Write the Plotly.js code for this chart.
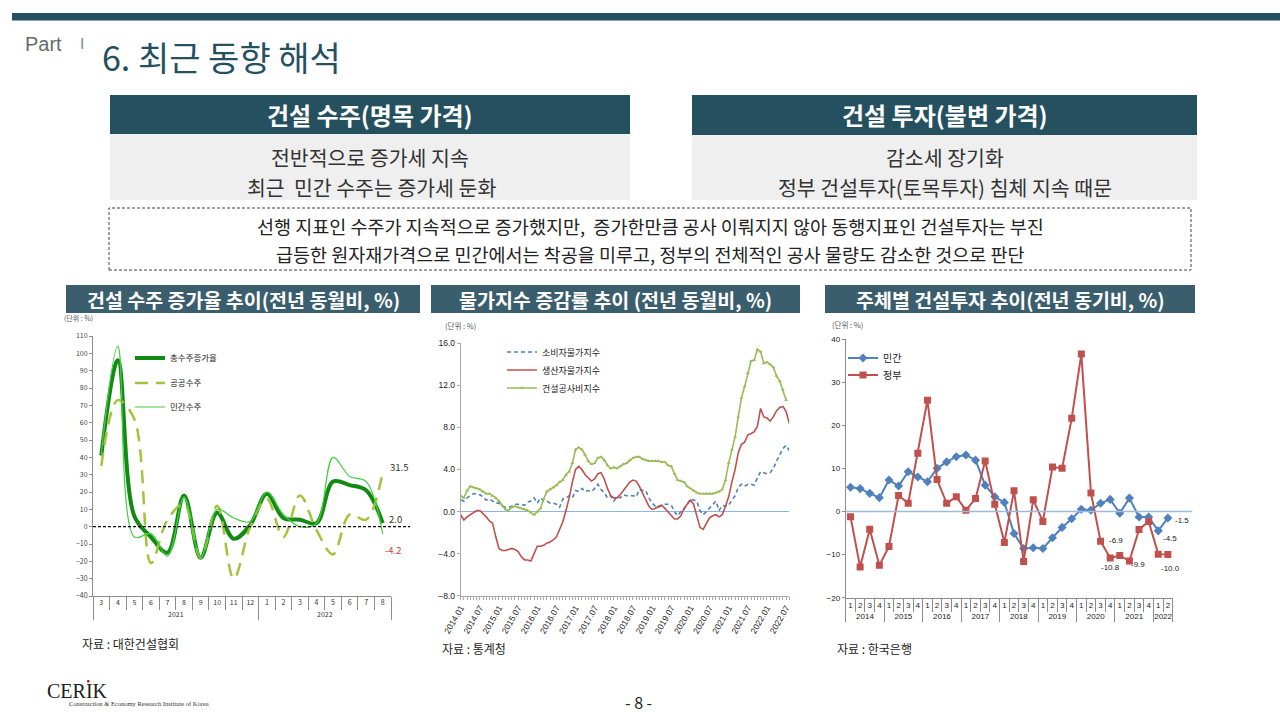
<!DOCTYPE html>
<html><head><meta charset="utf-8">
<script src="https://cdn.plot.ly/plotly-3.0.1.min.js"></script>
<style>html,body{margin:0;padding:0;background:#fff;}#chart{width:1280px;height:720px;}</style>
</head><body><div id="chart"></div>
<script>
// ---------- Chart 1 data: 건설 수주 증가율 ----------
const c1Year = ['2021','2021','2021','2021','2021','2021','2021','2021','2021','2021','2022','2022','2022','2022','2022','2022','2022','2022'];
const c1Month = ['3','4','5','6','7','8','9','10','11','12','1','2','3','4','5','6','7','8'];
const c1Total = [41, 96, 6, -6, -15, 18, -18, 8, -7, 1, 19, 5, 4, 2, 26, 24, 21, 2.0];
const c1Public = [35, 73, 62, -21, 4, 13, -18, 12, -30, 0, 16, -6, 18, -2, -16, 7, 4, 31.5];
const c1Private = [42, 104, -6, -4, -17, 17, -18, 10, 5, 3, 20, 7, 0, 2, 40, 29, 26, -4.2];
const c1Names = ['총수주증가율','공공수주','민간수주'];

// ---------- Chart 2 data: 물가지수 증감률 (2014.01 ~ 2022.08) ----------
const c2Years = ['2014','2015','2016','2017','2018','2019','2020','2021','2022'];
const c2MonthsOfYear = ['01','02','03','04','05','06','07','08','09','10','11','12'];
const c2Cpi = [1.1,1.0,1.3,1.5,1.7,1.7,1.6,1.4,1.1,1.2,1.0,0.8,
  0.8,0.5,0.4,0.4,0.5,0.7,0.7,0.7,0.6,0.9,1.0,1.3,
  0.8,1.3,1.0,1.0,0.8,0.8,0.7,0.4,1.2,1.3,1.5,1.3,
  2.0,1.9,2.2,1.9,2.0,1.9,2.2,2.6,2.1,1.8,1.3,1.5,
  1.0,1.4,1.3,1.6,1.5,1.5,1.5,1.4,2.1,2.0,2.0,1.3,
  0.8,0.5,0.4,0.6,0.7,0.7,0.6,0.0,-0.4,0.0,0.2,0.7,
  1.2,1.1,1.0,0.1,-0.3,0.0,0.3,0.7,1.0,0.1,0.6,0.5,
  0.6,1.1,1.5,2.3,2.6,2.4,2.6,2.6,2.5,3.2,3.8,3.7,
  3.6,3.7,4.1,4.8,5.4,6.0,6.3,5.8];
const c2Ppi = [-0.3,-0.8,-0.5,-0.3,-0.1,0.1,0.1,-0.2,-0.5,-0.9,-1.1,-2.4,
  -3.5,-3.7,-3.7,-3.6,-3.5,-3.6,-3.8,-4.3,-4.6,-4.6,-4.7,-4.0,
  -3.3,-3.3,-3.2,-3.0,-2.9,-2.7,-2.4,-1.7,-1.0,0.1,1.3,2.8,
  4.0,4.3,4.0,3.5,3.2,2.9,3.1,3.6,3.7,3.1,2.2,1.5,
  1.3,1.3,1.6,2.0,2.4,2.8,3.0,2.9,2.4,1.8,1.1,0.5,
  0.2,0.3,0.5,0.6,0.3,0.0,-0.3,-0.7,-0.7,-0.4,0.3,0.7,
  1.1,0.7,-0.4,-1.5,-1.7,-1.1,-0.6,-0.4,-0.3,-0.5,-0.3,0.5,
  1.4,2.8,4.0,5.6,6.4,6.6,7.3,7.4,7.6,8.1,9.8,9.0,
  8.9,8.6,9.0,9.6,9.9,10.0,9.5,8.4];
const c2Cci = [1.5,1.3,2.0,2.4,2.3,2.2,2.1,1.9,1.7,1.7,1.5,1.3,
  1.0,0.6,0.2,0.1,0.4,0.5,0.4,0.3,0.2,0.1,-0.1,-0.3,
  0.0,0.3,1.2,1.9,2.1,2.3,2.5,2.8,3.0,3.5,3.8,4.6,
  5.9,6.1,5.9,5.4,4.8,4.5,4.6,5.1,5.2,4.9,4.4,4.1,
  4.2,4.1,4.3,4.5,4.6,4.9,5.1,5.2,5.2,5.0,4.9,4.8,
  4.8,4.8,4.8,4.7,4.7,4.4,4.3,3.6,3.0,2.9,2.8,2.4,
  2.2,2.0,1.8,1.7,1.7,1.7,1.7,1.7,1.8,1.9,2.1,3.0,
  4.6,5.9,7.1,9.0,10.8,11.9,13.2,14.3,14.4,15.4,15.2,14.1,
  14.2,14.0,13.7,12.9,12.4,11.6,10.6,null];
const c2Names = ['소비자물가지수','생산자물가지수','건설공사비지수'];

// ---------- Chart 3 data: 주체별 건설투자 ----------
const c3Year = ['2014','2014','2014','2014','2015','2015','2015','2015','2016','2016','2016','2016',
  '2017','2017','2017','2017','2018','2018','2018','2018','2019','2019','2019','2019',
  '2020','2020','2020','2020','2021','2021','2021','2021','2022','2022'];
const c3Quarter = ['1','2','3','4','1','2','3','4','1','2','3','4','1','2','3','4','1','2','3','4',
  '1','2','3','4','1','2','3','4','1','2','3','4','1','2'];
const c3Private = [5.6,5.3,4.2,3.2, 7.3,5.9,9.2,8.0, 6.9,10.0,11.5,12.7, 13.1,11.9,6.1,3.4,
  2.1,-5.1,-8.6,-8.4, -8.6,-6.1,-3.7,-1.7, 0.5,0.3,1.9,2.8, -0.4,3.1,-1.3,-1.3, -4.5,-1.5];
const c3Gov = [-1.2,-12.9,-4.1,-12.5, -8.1,3.7,1.9,13.5, 25.8,7.4,1.9,3.4, 0.3,3.0,11.7,1.7,
  -7.2,4.8,-11.6,2.7, -2.3,10.3,10.0,21.6, 36.5,4.3,-6.9,-10.8, -10.2,-11.5,-4.2,-2.3, -9.9,-10.0];
const c3Names = ['민간','정부'];

// ---------- helpers ----------
const W = 1280, H = 720;
const px = x => x / W;
const py = y => 1 - y / H;
const KR = 'Noto Sans CJK KR, sans-serif';
const NUM = 'Liberation Sans, Arial, sans-serif';

// inner month keys made unique per year (zero-width mark) so Plotly keeps the original order
const c1MonthKey = c1Month.map((m, i) => (c1Year[i] === c1Year[c1Year.length - 1] ? m + '\u200b' : m));
const c2Labels = [];
c2Years.forEach(y => c2MonthsOfYear.forEach(m => { if (c2Labels.length < c2Cpi.length) c2Labels.push(y + '.' + m); }));
const c2TickText = c2Labels.map((l, i) => (i % 6 === 0 ? l : ''));
const c1Last = c1Month.length - 1;

const traces = [
  // chart 1
  {x:[c1Year,c1MonthKey], y:c1Total, name:c1Names[0], type:'scatter', mode:'lines', xaxis:'x', yaxis:'y',
   line:{color:'#138a13', width:4, shape:'spline', smoothing:1}, legend:'legend'},
  {x:[c1Year,c1MonthKey], y:c1Public, name:c1Names[1], type:'scatter', mode:'lines', xaxis:'x', yaxis:'y',
   line:{color:'#a3c43a', width:2.5, dash:'13px,8px', shape:'spline', smoothing:1}, legend:'legend2'},
  {x:[c1Year,c1MonthKey], y:c1Private, name:c1Names[2], type:'scatter', mode:'lines', xaxis:'x', yaxis:'y',
   line:{color:'#3fcf3f', width:1.2, shape:'spline', smoothing:1}, legend:'legend3'},
  // chart 2
  {x:c2Labels, y:c2Cpi, name:c2Names[0], type:'scatter', mode:'lines', xaxis:'x2', yaxis:'y2',
   line:{color:'#4f81bd', width:1.6, dash:'4px,3px'}, legend:'legend4'},
  {x:c2Labels, y:c2Ppi, name:c2Names[1], type:'scatter', mode:'lines', xaxis:'x2', yaxis:'y2',
   line:{color:'#c0504d', width:1.6}, legend:'legend5'},
  {x:c2Labels, y:c2Cci, name:c2Names[2], type:'scatter', mode:'lines+markers', xaxis:'x2', yaxis:'y2',
   line:{color:'#9bbb59', width:1.6}, marker:{symbol:'triangle-up', size:3.5, color:'#9bbb59'}, legend:'legend6'},
  // chart 3
  {x:[c3Year,c3Quarter], y:c3Private, name:c3Names[0], type:'scatter', mode:'lines+markers', xaxis:'x3', yaxis:'y3',
   line:{color:'#4f81bd', width:2}, marker:{symbol:'diamond', size:7, color:'#4f81bd'}, legend:'legend7'},
  {x:[c3Year,c3Quarter], y:c3Gov, name:c3Names[1], type:'scatter', mode:'lines+markers', xaxis:'x3', yaxis:'y3',
   line:{color:'#c0504d', width:2}, marker:{symbol:'square', size:7, color:'#c0504d'}, legend:'legend8'}
];

function leg(xp, yp, size) {
  return {x:px(xp), y:py(yp), xanchor:'left', yanchor:'middle', bgcolor:'rgba(0,0,0,0)',
          font:{family:KR, size:size, color:'#222'}, itemwidth:30, borderwidth:0};
}

const axLine = '#8c8c8c';
const shapes = [
  {type:'rect', xref:'paper', yref:'paper', x0:px(12), x1:1, y0:py(20.5), y1:py(13), fillcolor:'#25505f', line:{width:0}},
  {type:'rect', xref:'paper', yref:'paper', x0:px(110), x1:px(630), y0:py(134), y1:py(95), fillcolor:'#25505f', line:{width:0}},
  {type:'rect', xref:'paper', yref:'paper', x0:px(110), x1:px(630), y0:py(200), y1:py(134), fillcolor:'#efefef', line:{width:0}},
  {type:'rect', xref:'paper', yref:'paper', x0:px(692), x1:px(1197), y0:py(135), y1:py(95), fillcolor:'#25505f', line:{width:0}},
  {type:'rect', xref:'paper', yref:'paper', x0:px(692), x1:px(1197), y0:py(200), y1:py(135), fillcolor:'#efefef', line:{width:0}},
  {type:'rect', xref:'paper', yref:'paper', x0:px(109), x1:px(1191), y0:py(270), y1:py(208), fillcolor:'rgba(0,0,0,0)', line:{width:1, color:'#444', dash:'3px,2px'}},
  {type:'rect', xref:'paper', yref:'paper', x0:px(66), x1:px(420), y0:py(313), y1:py(285), fillcolor:'#3a5e6d', line:{width:0}},
  {type:'rect', xref:'paper', yref:'paper', x0:px(431), x1:px(800), y0:py(313), y1:py(285), fillcolor:'#3a5e6d', line:{width:0}},
  {type:'rect', xref:'paper', yref:'paper', x0:px(825), x1:px(1195), y0:py(313), y1:py(285), fillcolor:'#3a5e6d', line:{width:0}},
  {type:'line', xref:'x domain', yref:'y', x0:0, x1:1.064, y0:0, y1:0, line:{color:'#000', width:1.2, dash:'3px,2px'}},
  {type:'line', xref:'x3 domain', yref:'y3', x0:0, x1:1.06, y0:0, y1:0, line:{color:'#9dbbd9', width:1.5}},
  {type:'circle', xref:'paper', yref:'paper', x0:px(87), x1:px(89.5), y0:py(682.5), y1:py(680), fillcolor:'#c00000', line:{width:0}}
];

function ann(text, x, y, size, color, opts) {
  return Object.assign({text:text, xref:'paper', yref:'paper', x:px(x), y:py(y), showarrow:false,
    xanchor:'center', yanchor:'middle', font:{family:KR, size:size, color:color}}, opts || {});
}

const annotations = [
  ann('Part', 23, 44, 20, '#666', {xanchor:'left', font:{family:NUM, size:20, color:'#6a6a6a'}}),
  ann('Ⅰ', 82, 43, 15, '#888', {font:{family:NUM, size:15, color:'#888'}}),
  ann('6. 최근 동향 해석', 100, 57, 34, '#25505f', {xanchor:'left'}),
  ann('<b>건설 수주(명목 가격)</b>', 370, 114, 24, '#fff'),
  ann('전반적으로 증가세 지속', 370, 157, 20.5, '#333'),
  ann('최근  민간 수주는 증가세 둔화', 371, 187, 20.5, '#333'),
  ann('<b>건설 투자(불변 가격)</b>', 945, 115, 24, '#fff'),
  ann('감소세 장기화', 945, 157, 20.5, '#333'),
  ann('정부 건설투자(토목투자) 침체 지속 때문', 945, 187, 20.5, '#333'),
  ann('선행 지표인 수주가 지속적으로 증가했지만,  증가한만큼 공사 이뤄지지 않아 동행지표인 건설투자는 부진', 650, 226, 18.5, '#222', {borderpad:0}),
  ann('급등한 원자재가격으로 민간에서는 착공을 미루고, 정부의 전체적인 공사 물량도 감소한 것으로 판단', 650, 254, 18.5, '#222', {borderpad:0}),
  ann('<b>건설 수주 증가율 추이(전년 동월비, %)</b>', 243, 299, 19.5, '#fff'),
  ann('<b>물가지수 증감률 추이 (전년 동월비, %)</b>', 615, 299, 19.5, '#fff'),
  ann('<b>주체별 건설투자 추이(전년 동기비, %)</b>', 1010, 299, 19.5, '#fff'),
  ann('(단위 : %)', 62, 318, 7, '#555', {xanchor:'left'}),
  ann('(단위 : %)', 443, 326, 7.5, '#555', {xanchor:'left'}),
  ann('(단위 : %)', 830, 325, 7.5, '#555', {xanchor:'left'}),
  ann('자료 : 대한건설협회', 80, 643, 12, '#222', {xanchor:'left'}),
  ann('자료 : 통계청', 440, 648, 12, '#222', {xanchor:'left'}),
  ann('자료 : 한국은행', 835, 648, 12, '#222', {xanchor:'left'}),
  ann('CERIK', 45, 691, 20, '#222', {xanchor:'left', font:{family:'Liberation Serif, serif', size:20, color:'#222'}}),
  ann('Construction &amp; Economy Research Institute of Korea', 67, 703, 6.5, '#333', {xanchor:'left', font:{family:'Liberation Serif, serif', size:6.5, color:'#333'}}),
  ann('- 8 -', 638, 702, 16, '#222'),
  // chart 1 end labels
  {text:String(c1Public[c1Last]), xref:'x', yref:'y', x:c1Last, y:c1Public[c1Last], showarrow:false, xanchor:'left', xshift:5, yshift:5, font:{family:KR, size:9.5, color:'#333'}},
  {text:c1Total[c1Last].toFixed(1), xref:'x', yref:'y', x:c1Last, y:c1Total[c1Last], showarrow:false, xanchor:'left', xshift:4, yshift:4, font:{family:KR, size:9.5, color:'#333'}},
  {text:c1Private[c1Last].toFixed(1), xref:'x', yref:'y', x:c1Last, y:c1Private[c1Last], showarrow:false, xanchor:'left', xshift:0, yshift:-16, font:{family:KR, size:9.5, color:'#e03c3c'}},
  // chart 3 labels
  {text:c3Gov[26].toFixed(1), xref:'x3', yref:'y3', x:26, y:c3Gov[26], showarrow:false, xanchor:'left', xshift:6, yshift:1, font:{family:NUM, size:8, color:'#222'}},
  {text:c3Gov[27].toFixed(1), xref:'x3', yref:'y3', x:27, y:c3Gov[27], showarrow:false, xanchor:'center', xshift:0, yshift:-9, font:{family:NUM, size:8, color:'#222'}},
  {text:c3Gov[32].toFixed(1), xref:'x3', yref:'y3', x:32, y:c3Gov[32], showarrow:false, xanchor:'center', xshift:-20, yshift:-10, font:{family:NUM, size:8, color:'#222'}},
  {text:c3Gov[33].toFixed(1), xref:'x3', yref:'y3', x:33, y:c3Gov[33], showarrow:false, xanchor:'center', xshift:3, yshift:-14, font:{family:NUM, size:8, color:'#222'}},
  {text:c3Private[32].toFixed(1), xref:'x3', yref:'y3', x:32, y:c3Private[32], showarrow:false, xanchor:'left', xshift:3, yshift:-8, font:{family:NUM, size:8, color:'#222'}},
  {text:c3Private[33].toFixed(1), xref:'x3', yref:'y3', x:33, y:c3Private[33], showarrow:false, xanchor:'left', xshift:5, yshift:-3, font:{family:NUM, size:8, color:'#222'}}
];

const mcAxis = (dom, anchor, n, font) => ({type:'multicategory', domain:dom, anchor:anchor, range:[-0.5, n - 0.5],
  showline:true, linecolor:axLine, linewidth:1, tickangle:0, tickmode:'linear', tick0:0, dtick:1,
  ticks:'outside', tickson:'boundaries', ticklen:13, tickcolor:axLine, showdividers:true, dividercolor:axLine, dividerwidth:1,
  tickfont:font, showgrid:false, zeroline:false});

const layout = {
  width:W, height:H, margin:{l:0, r:0, t:0, b:0}, paper_bgcolor:'#fff', plot_bgcolor:'rgba(0,0,0,0)',
  showlegend:true,
  xaxis: mcAxis([px(93), px(391)], 'y', c1Month.length, {family:KR, size:7, color:'#333'}),
  yaxis: {domain:[py(596), py(336)], anchor:'x', range:[-40,110], dtick:10, showline:true, linecolor:axLine,
    ticks:'outside', ticklen:3, tickcolor:axLine, tickfont:{family:KR, size:7, color:'#444'}, showgrid:false, zeroline:false},
  xaxis2: {type:'category', domain:[px(460.7), px(789.3)], anchor:'y2', range:[0, c2Labels.length-1],
    tickmode:'array', tickvals:c2Labels, ticktext:c2TickText, tickangle:-60, ticks:'outside', ticklen:3, tickcolor:'#aaa',
    showline:true, linecolor:'#aaa', tickfont:{family:NUM, size:8.5, color:'#222'}, showgrid:false, zeroline:false},
  yaxis2: {domain:[py(595.7), py(343.3)], anchor:'x2', range:[-8,16], dtick:4, tickformat:'.1f', showline:true, linecolor:'#aaa',
    ticks:'outside', ticklen:3, tickcolor:'#aaa', tickfont:{family:NUM, size:8.5, color:'#222'}, showgrid:false,
    zeroline:true, zerolinecolor:'#8eb4e3', zerolinewidth:1.5},
  xaxis3: mcAxis([px(845.7), px(1172.7)], 'y3', c3Quarter.length, {family:NUM, size:8, color:'#222'}),
  yaxis3: {domain:[py(597.7), py(339)], anchor:'x3', range:[-20,40], dtick:10, showline:true, linecolor:axLine,
    ticks:'outside', ticklen:3, tickcolor:axLine, tickfont:{family:NUM, size:8, color:'#222'}, showgrid:false, zeroline:false},
  legend: leg(130, 358, 8.5),
  legend2: leg(130, 383, 8.5),
  legend3: leg(130, 407, 8.5),
  legend4: leg(502, 352, 9),
  legend5: leg(502, 370, 9),
  legend6: leg(502, 388, 9),
  legend7: leg(843, 358, 10),
  legend8: leg(843, 375, 10),
  shapes: shapes,
  annotations: annotations
};

Plotly.newPlot('chart', traces, layout, {staticPlot:true, displayModeBar:false});
</script></body></html>
